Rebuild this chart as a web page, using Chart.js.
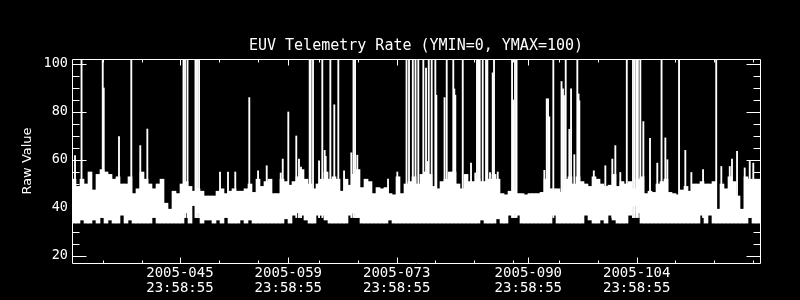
<!DOCTYPE html>
<html>
<head>
<meta charset="utf-8">
<script src="https://cdn.jsdelivr.net/npm/chart.js@4.4.1/dist/chart.umd.min.js"></script>
<style>
  html, body { margin: 0; padding: 0; background: #000; }
  canvas { display: block; }
</style>
</head>
<body>
<canvas id="myChart" width="800" height="300"></canvas>
<script>
// x axis is day-of-year 2005
const dayStart = 32.06;
const dayEnd = 120.926;

const majorDays = [45.9992, 59.9992, 73.9992, 90.9992, 104.9992];
const majorLabels = ['2005-045', '2005-059', '2005-073', '2005-090', '2005-104'];
const tickTime = '23:58:55';
const minorDays = [36.10, 41.14, 51.09, 56.12, 64.00, 69.04, 78.99, 84.02, 89.06, 95.00, 100.04, 109.99, 115.02, 119.98];

const yMin = 17.08;
const yMax = 102.08;
const yMajor = [20, 40, 60, 80, 100];
const yMinor = [25, 30, 35, 45, 50, 55, 65, 70, 75, 85, 90, 95];

// dense band of raw values: top of the band per time bin
const bandHigh = [
  52, 49, 52, 50, 55, 47.5, 54, 56, 55, 54, 52, 53, 50, 50, 53, 46, 48, 55, 52, 50, 48, 50,
  52, 42, 39.5, 47, 46, 50, 51, 49, 47, 48, 47, 45, 45, 45, 47, 48, 46, 47, 48, 47, 47,
  48, 50, 46.5, 52, 49, 51, 52, 46, 46, 52, 51, 49.5, 51, 53, 56, 52, 50, 48, 50, 52, 55,
  52, 53, 52, 47, 52, 49.5, 54, 56, 48.5, 52, 51, 46, 48.5, 48, 48.5, 46, 45.5, 53, 46, 50, 51, 53,
  50, 54, 55, 54, 49, 48, 51, 52, 55, 55, 50, 48, 54, 51, 51, 52, 51, 51, 52, 54, 52,
  46, 45.5, 47, 47, 46, 46, 45.5, 46, 46, 46, 46.5, 52, 48, 48, 48, 46.5, 52, 53, 50, 53, 51, 50,
  49, 53, 52, 50, 49, 49.5, 54, 49, 51, 50, 51, 48, 52, 53, 46, 47, 46.5, 50, 51, 52, 46.5,
  46, 45.5, 47.5, 49, 47, 50, 50, 51, 50, 50, 51, 39.5, 50, 48, 53, 51, 45, 39.5, 53, 52, 52, 52
];
const bandFloor = 33.7;
// bins where the band does not reach down to the floor
const notchBins = [2, 5, 7, 9, 12, 14, 20, 28, 30, 31, 33, 34, 36, 38, 42,
  44, 53, 55, 56, 57, 58, 61, 62, 63, 69, 70, 71, 79,
  102, 106, 109, 110, 111, 120, 128,
  129, 132, 134, 135, 139, 140, 141, 157, 159, 169];
const notchLows = [35, 35, 36, 35, 37, 35, 36, 38, 41, 38, 35, 35, 35, 36, 35,
  35, 35.5, 37, 38, 37, 35, 37, 37, 35, 37, 38, 36, 35,
  35, 35.5, 37, 38, 37, 37, 37,
  35, 35, 37, 35, 37, 41, 38, 37, 37, 36];

// single-sample spikes above the band
const spikeBase = 36;
const spikeDays = [
  32.45, 33.29, 36.03, 36.16, 38.13, 39.72, 40.88, 41.79, 46.46, 46.66,
  46.98, 48.01, 48.21, 48.47, 51.18, 52.21, 53.15, 54.96, 56.09, 57.21,
  59.02, 59.28, 60.00, 61.03, 61.38, 61.64, 62.76, 62.89, 63.19, 63.97,
  64.39, 64.70, 64.83, 65.43, 65.94, 66.46, 67.20, 68.14, 68.42, 68.62,
  68.91, 72.88, 74.08, 75.27, 75.59, 76.08, 76.43, 76.79, 77.44, 77.79,
  78.01, 78.14, 78.52, 78.99, 79.12, 80.18, 80.46, 81.31, 81.44, 81.57,
  82.53, 83.60, 84.15, 84.37, 84.54, 84.72, 85.11, 85.54, 85.71, 86.05,
  86.40, 86.57, 87.05, 88.90, 89.06, 89.28, 89.48, 93.07, 93.38, 93.55,
  93.71, 94.23, 95.29, 95.48, 95.61, 95.83, 96.30, 96.52, 96.94, 97.33,
  97.49, 97.59, 99.46, 100.95, 101.85, 102.24, 102.88, 103.72, 104.52, 104.74,
  104.98, 105.15, 105.47, 105.86, 106.72, 107.66, 108.21, 108.70, 108.96, 110.47,
  111.28, 112.06, 113.57, 115.27, 115.93, 117.02, 117.31, 117.96, 118.95, 119.60,
  120.06
];
const spikeTops = [
  61.8, 103, 103, 90, 69.8, 103, 66, 72.9, 103, 103,
  103, 103, 103, 103, 55, 55, 55, 86, 55.5, 57.6,
  54.6, 60.4, 80, 70, 60.4, 57, 103, 103, 103, 59.7,
  103, 64, 61.5, 103, 83, 103, 55.5, 63, 103, 103,
  62, 52, 55, 103, 103, 103, 103, 103, 103, 98.3,
  59.4, 103, 103, 103, 87, 86, 103, 103, 89.6, 87,
  103, 58.7, 54.6, 103, 103, 103, 103, 103, 103, 54.8,
  96.3, 103, 55, 103, 85, 103, 103, 55.7, 85.5, 85.5,
  78, 103, 92.7, 89.6, 86.8, 103, 72.8, 89.6, 62.2, 103,
  87.5, 84.7, 55.5, 57.6, 60.4, 66, 54.8, 103, 103, 103,
  103, 103, 103, 76, 69, 58.7, 103, 69.2, 60.1, 103,
  64, 54.8, 56, 103, 57.3, 57.3, 60.4, 63.6, 56.7, 59.4,
  58.7
];

const binDays = (dayEnd - dayStart) / bandHigh.length;
const bandLow = bandHigh.map(() => bandFloor);
notchBins.forEach((b, k) => { bandLow[b] = notchLows[k]; });

const bandData = bandHigh.map((h, i) => ({ x: dayStart + (i + 0.5) * binDays, y: [bandLow[i], h] }));
const spikeData = spikeDays.map((d, i) => ({ x: d, y: [spikeBase, spikeTops[i]] }));

// box round the plot with inward tick marks on all four sides
const frame = {
  id: 'frame',
  afterDatasetsDraw(chart) {
    const {ctx, chartArea: a, scales: {x, y}} = chart;
    const L = Math.round(a.left) + 0.5, R = Math.round(a.right) + 0.5;
    const T = Math.round(a.top) + 0.5, B = Math.round(a.bottom) + 0.5;
    ctx.save();
    ctx.strokeStyle = '#fff';
    ctx.lineWidth = 1;
    ctx.beginPath();
    ctx.moveTo(L, T); ctx.lineTo(R, T); ctx.lineTo(R, B); ctx.lineTo(L, B); ctx.closePath();
    const xt = (d, len) => {
      const p = Math.round(x.getPixelForValue(d)) + 0.5;
      ctx.moveTo(p, B); ctx.lineTo(p, B - len);
      ctx.moveTo(p, T); ctx.lineTo(p, T + len);
    };
    majorDays.forEach(d => xt(d, 6));
    minorDays.forEach(d => xt(d, 3));
    const yt = (v, len) => {
      const p = Math.round(y.getPixelForValue(v)) + 0.5;
      ctx.moveTo(L, p); ctx.lineTo(L + len, p);
      ctx.moveTo(R, p); ctx.lineTo(R - len, p);
    };
    yMajor.forEach(v => yt(v, 14));
    yMinor.forEach(v => yt(v, 7));
    ctx.stroke();
    ctx.restore();
  }
};

Chart.defaults.font.family = "'DejaVu Sans Mono', monospace";
Chart.defaults.color = '#fff';

new Chart(document.getElementById('myChart'), {
  type: 'bar',
  data: {
    datasets: [
      { label: 'band', data: bandData, backgroundColor: '#fff', borderWidth: 0, barThickness: 4, grouped: false },
      { label: 'spikes', data: spikeData, backgroundColor: '#fff', borderWidth: 0, barThickness: 1.2, grouped: false }
    ]
  },
  options: {
    responsive: false,
    animation: false,
    layout: { padding: { left: 0, right: 40, top: 0, bottom: 0 } },
    plugins: {
      legend: { display: false },
      tooltip: { enabled: false },
      title: {
        display: true,
        text: 'EUV Telemetry Rate (YMIN=0, YMAX=100)',
        color: '#fff',
        fullSize: false,
        font: { size: 15, weight: 'normal' },
        padding: { top: 37, bottom: 4 }
      }
    },
    scales: {
      x: {
        type: 'linear',
        min: dayStart,
        max: dayEnd,
        offset: false,
        grid: { display: false, drawTicks: false },
        border: { display: false },
        afterBuildTicks: s => { s.ticks = majorDays.map(v => ({ value: v })); },
        afterFit: s => { s.height = 37; },
        ticks: {
          color: '#fff',
          maxRotation: 0,
          autoSkip: false,
          padding: 3.6,
          font: { size: 14, lineHeight: 1.02 },
          callback: (v, i) => [majorLabels[i], tickTime]
        }
      },
      y: {
        min: yMin,
        max: yMax,
        grid: { display: false, drawTicks: false },
        border: { display: false },
        afterBuildTicks: s => { s.ticks = yMajor.map(v => ({ value: v })); },
        afterFit: s => { s.width = 72; },
        ticks: { color: '#fff', padding: 4, font: { size: 13.5 } },
        title: {
          display: true,
          text: 'Raw Value',
          color: '#fff',
          font: { size: 13, family: "'DejaVu Sans', sans-serif" },
          padding: { top: 20, bottom: 0 }
        }
      }
    }
  },
  plugins: [frame]
});
</script>
</body>
</html>
